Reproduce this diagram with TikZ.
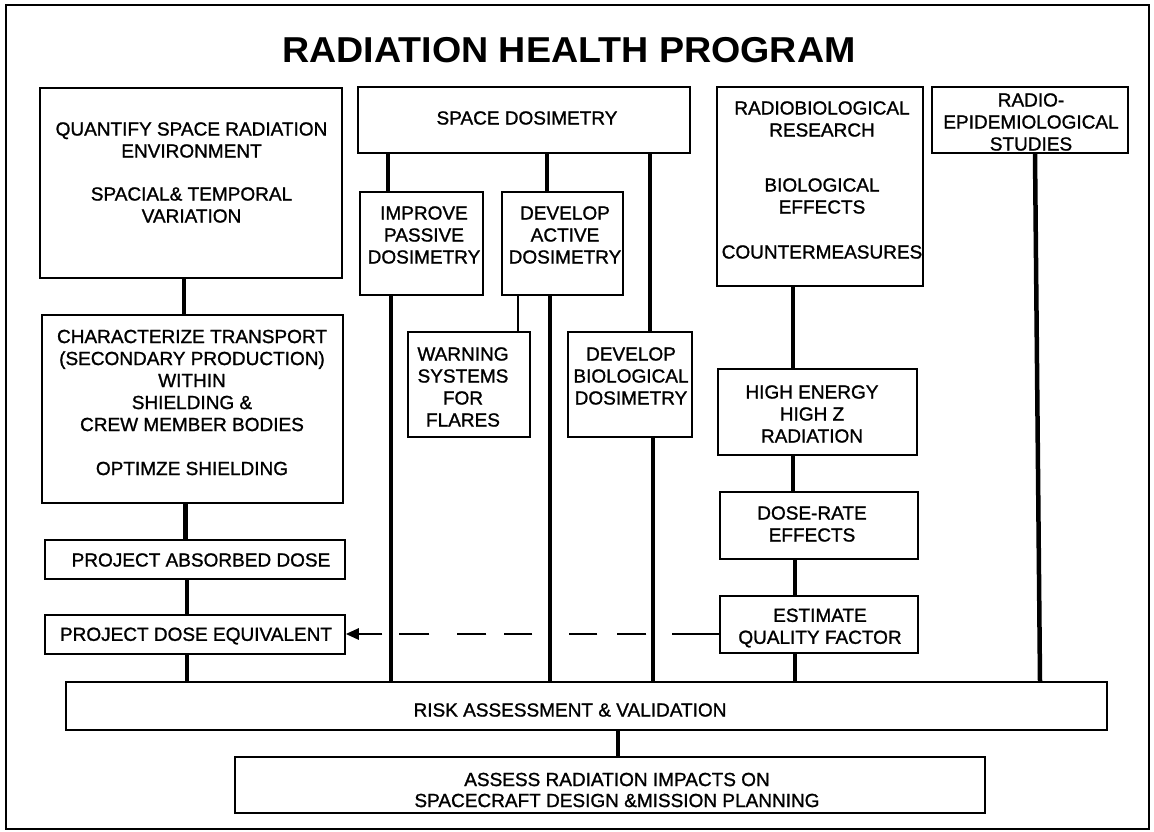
\documentclass[tikz,border=0pt]{standalone}
\usepackage{fontspec}
\setmainfont{Liberation Sans}
\newfontfamily\medfont{Liberation Sans}[FakeBold=1.2]
\usetikzlibrary{arrows.meta}
\begin{document}
\begin{tikzpicture}[x=1pt,y=-1pt,
  box/.style={draw, line width=1.5pt, rectangle, inner sep=0pt},
  txt/.style={align=center, inner sep=0pt, font=\medfont\fontsize{19}{22}\selectfont},
  conn/.style={line width=4.5pt},
  midconn/.style={line width=3.5pt},
  thinconn/.style={line width=1.5pt}]
\useasboundingbox (0,0) rectangle (1154,832);
\draw[line width=2pt] (6,5) rectangle (1149,829);

\node[inner sep=0pt, xscale=1.045, font=\bfseries\fontsize{36}{36}\selectfont] (title) at (569,50) {RADIATION HEALTH PROGRAM};

% boxes
\node[box, minimum width=302pt, minimum height=190pt] (q)   at (191,183) {};
\node[box, minimum width=301pt, minimum height=188pt] (ct)  at (192.5,409) {};
\node[box, minimum width=300pt, minimum height=39pt]  (pad) at (195,559.5) {};
\node[box, minimum width=300pt, minimum height=39pt]  (pde) at (195,634.5) {};
\node[box, minimum width=332pt, minimum height=66pt]  (sd)  at (524,120) {};
\node[box, minimum width=123pt, minimum height=103pt] (ipd) at (421.5,243.5) {};
\node[box, minimum width=121pt, minimum height=103pt] (dad) at (562.5,243.5) {};
\node[box, minimum width=122pt, minimum height=105pt] (wsf) at (469,384.5) {};
\node[box, minimum width=124pt, minimum height=105pt] (dbd) at (630,384.5) {};
\node[box, minimum width=206pt, minimum height=199pt] (rb)  at (820,186.5) {};
\node[box, minimum width=196pt, minimum height=66pt]  (re)  at (1030,120) {};
\node[box, minimum width=199pt, minimum height=86pt]  (he)  at (817.5,412) {};
\node[box, minimum width=198pt, minimum height=67pt]  (dr)  at (819,525.5) {};
\node[box, minimum width=198pt, minimum height=57pt]  (ecq) at (819,624.5) {};
\node[box, minimum width=1041pt, minimum height=48pt] (rav) at (586.5,706) {};
\node[box, minimum width=750pt, minimum height=56pt]  (asr) at (610,785) {};

% texts
\node[txt] (qT) at (191.5,172.5) {QUANTIFY SPACE RADIATION\\ENVIRONMENT\\[21pt]SPACIAL\& TEMPORAL\\VARIATION};
\node[txt] (ctT) at (192,402.5) {CHARACTERIZE TRANSPORT\\(SECONDARY PRODUCTION)\\WITHIN\\SHIELDING \&\\CREW MEMBER BODIES\\[22pt]OPTIMZE SHIELDING};
\node[txt] (padT) at (201,560) {PROJECT ABSORBED DOSE};
\node[txt] (pdeT) at (196,636) {PROJECT DOSE EQUIVALENT};
\node[txt] (sdT) at (527,118) {SPACE DOSIMETRY};
\node[txt] (ipdT) at (424,235) {IMPROVE\\PASSIVE\\DOSIMETRY};
\node[txt] (dadT) at (565,235) {DEVELOP\\ACTIVE\\DOSIMETRY};
\node[txt] (wsfT) at (463,387) {WARNING\\SYSTEMS\\FOR\\FLARES};
\node[txt] (dbdT) at (631,376) {DEVELOP\\BIOLOGICAL\\DOSIMETRY};
\node[txt] (rbT) at (822,180) {RADIOBIOLOGICAL\\RESEARCH\\[33pt]BIOLOGICAL\\EFFECTS\\[23pt]COUNTERMEASURES};
\node[txt] (reT) at (1031,122) {RADIO-\\EPIDEMIOLOGICAL\\STUDIES};
\node[txt] (heT) at (812,414) {HIGH ENERGY\\HIGH Z\\RADIATION};
\node[txt] (drT) at (812,524) {DOSE-RATE\\EFFECTS};
\node[txt] (ecqT) at (820,628) {ESTIMATE\\QUALITY FACTOR};
\node[txt] (ravT) at (570,710) {RISK ASSESSMENT \& VALIDATION};
\node[txt, font=\medfont\fontsize{19}{21}\selectfont] (asrT) at (617,790) {ASSESS RADIATION IMPACTS ON\\SPACECRAFT DESIGN \&MISSION PLANNING};

% x positions of connectors
\coordinate (xa1) at (184,0);
\coordinate (xa2) at (185.5,0);
\coordinate (xa3) at (187,0);
\coordinate (xb1) at (388,0);
\coordinate (xb1b) at (391,0);
\coordinate (xb2) at (547,0);
\coordinate (xb2b) at (550,0);
\coordinate (xw) at (518,0);
\coordinate (xb3) at (650,0);
\coordinate (xb3b) at (653,0);
\coordinate (xr) at (793,0);
\coordinate (xrb) at (795,0);
\coordinate (xre) at (1035,0);
\coordinate (xreb) at (1040,0);
\coordinate (xas) at (618,0);
\coordinate (ya) at (0,634);

% connectors
\draw[conn] (xa1 |- q.south) -- (xa1 |- ct.north);
\draw[conn] (xa2 |- ct.south) -- (xa2 |- pad.north);
\draw[conn] (xa3 |- pad.south) -- (xa3 |- pde.north);
\draw[conn] (xa3 |- pde.south) -- (xa3 |- rav.north);
\draw[conn] (xb1 |- sd.south) -- (xb1 |- ipd.north);
\draw[midconn] (xb1b |- ipd.south) -- (xb1b |- rav.north);
\draw[conn] (xb2 |- sd.south) -- (xb2 |- dad.north);
\draw[conn] (xb2b |- dad.south) -- (xb2b |- rav.north);
\draw[thinconn] (xw |- dad.south) -- (xw |- wsf.north);
\draw[conn] (xb3 |- sd.south) -- (xb3 |- dbd.north);
\draw[conn] (xb3b |- dbd.south) -- (xb3b |- rav.north);
\draw[conn] (xr |- rb.south) -- (xr |- he.north);
\draw[conn] (xr |- he.south) -- (xr |- dr.north);
\draw[conn] (xrb |- dr.south) -- (xrb |- ecq.north);
\draw[conn] (xrb |- ecq.south) -- (xrb |- rav.north);
\draw[conn] (xre |- re.south) -- (xreb |- rav.north);
\draw[conn] (xas |- rav.south) -- (xas |- asr.north);

% dashed arrow
\draw[line width=2.5pt, dash pattern=on 47pt off 26pt on 29pt off 20pt on 28pt off 37pt on 28pt off 18pt on 29pt off 28pt on 30pt off 17pt on 60pt off 0pt,
  -{Triangle[length=13pt,width=11pt]}] (ecq.west |- ya) -- (pde.east |- ya);
\end{tikzpicture}
\end{document}
